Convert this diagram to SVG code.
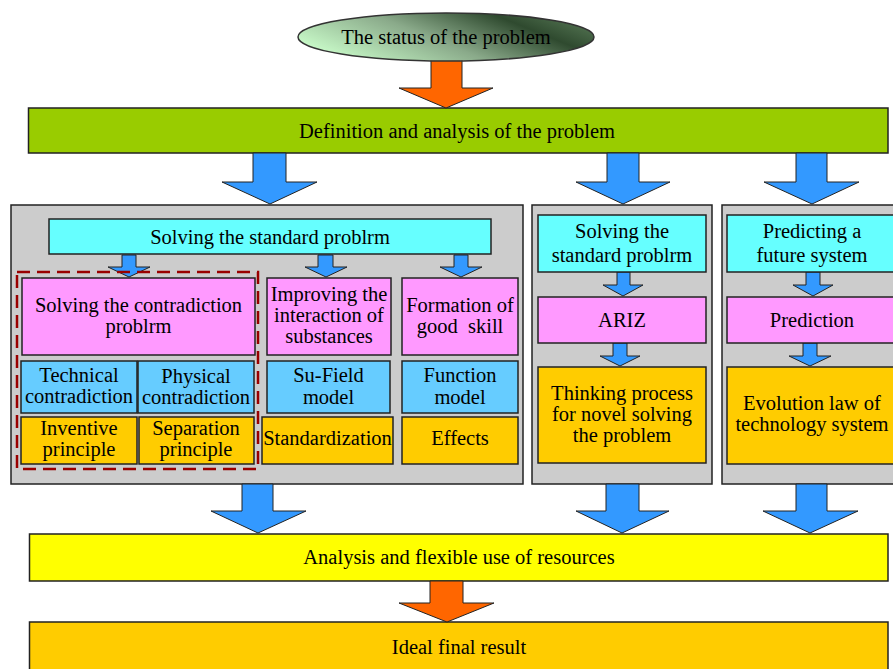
<svg xmlns="http://www.w3.org/2000/svg" width="893" height="669" viewBox="0 0 893 669">
<defs>
<linearGradient id="eg" x1="0" y1="0.7" x2="1" y2="0.3">
<stop offset="0" stop-color="#ccffcc"/>
<stop offset="0.45" stop-color="#8aaa8a"/>
<stop offset="0.8" stop-color="#2f4a2f"/>
<stop offset="1" stop-color="#50704f"/>
</linearGradient>
<style>
text{font-family:"Liberation Serif","Times New Roman",serif;font-size:20.5px;fill:#000;text-anchor:middle;white-space:pre}
.box{stroke:#222;stroke-width:1.5}
.gray{fill:#cccccc}
.green{fill:#99cc00}
.cyan{fill:#66ffff}
.pink{fill:#ff99ff}
.blue{fill:#66ccff}
.orange{fill:#ffcc00}
.yellow{fill:#ffff00}
.arB{fill:#3399ff;stroke:#222;stroke-width:1}
.arO{fill:#ff6600;stroke:#222;stroke-width:1}
.dash{fill:none;stroke:#990000;stroke-width:2.5;stroke-dasharray:13 7}
</style>
</defs>
<rect width="893" height="669" fill="#fff"/>

<g id="n-defn"><rect class="box green" x="28.5" y="108" width="859.5" height="45"/><text x="457" y="138">Definition and analysis of the problem</text></g>

<g id="n-col1"><rect class="box gray" x="11" y="205" width="512" height="279"/></g>
<g id="n-col2"><rect class="box gray" x="532" y="205" width="180" height="279"/></g>
<g id="n-col3"><rect class="box gray" x="722" y="205" width="185" height="279"/></g>

<g id="n-resources"><rect class="box yellow" x="29.5" y="534" width="858.5" height="47"/><text x="459" y="564">Analysis and flexible use of resources</text></g>
<g id="n-ideal"><rect class="box orange" x="29.5" y="622" width="858.5" height="60"/><text x="459" y="654">Ideal final result</text></g>

<g id="connectors">
<polygon class="arO" points="431,55 462,55 462,88 493,88 446,108 399,88 431,88"/>
<polygon class="arB" points="253,153 286,153 286,182 317,182 270,204 222,182 253,182"/>
<polygon class="arB" points="607,153 639,153 639,182 670,182 623,204 576,182 607,182"/>
<polygon class="arB" points="796,153 827,153 827,182 859,182 812,204 764,182 796,182"/>
<polygon class="arB" points="122,255 136,255 136,267 150,267 129,277 108,267 122,267"/>
<polygon class="arB" points="318,255 333,255 333,267 347,267 326,277 305,267 318,267"/>
<polygon class="arB" points="454,255 468,255 468,267 482,267 461,277 440,267 454,267"/>
<polygon class="arB" points="617,272 630,272 630,285 643,285 623,296 603,285 617,285"/>
<polygon class="arB" points="613,343 627,343 627,356 640,356 620,366 600,356 613,356"/>
<polygon class="arB" points="806,272 820,272 820,285 833,285 813,296 793,285 806,285"/>
<polygon class="arB" points="803,343 817,343 817,356 831,356 810,366 789,356 803,356"/>
<polygon class="arB" points="242,484 273,484 273,511 306,511 258,533 211,511 242,511"/>
<polygon class="arB" points="606,484 639,484 639,511 669,511 622,533 576,511 606,511"/>
<polygon class="arB" points="796,484 827,484 827,511 858,511 810,533 763,511 796,511"/>
<polygon class="arO" points="430,581 463,581 463,603 494,603 447,622 399,603 430,603"/>
</g>

<g id="n-status"><ellipse cx="446" cy="37" rx="148" ry="24" fill="url(#eg)" stroke="#333" stroke-width="1.5"/><text x="446" y="44">The status of the problem</text></g>

<g id="n-std1"><rect class="box cyan" x="49" y="219" width="442" height="35"/><text x="270" y="244">Solving the standard problrm</text></g>
<g id="n-group"><rect class="dash" x="17" y="272" width="241" height="197"/></g>
<g id="n-contra"><rect class="box pink" x="22" y="278" width="233" height="77"/><text x="138.5" y="312">Solving the contradiction</text><text x="138.5" y="333">problrm</text></g>
<g id="n-tech"><rect class="box blue" x="21" y="361" width="116" height="52"/><text x="79" y="382">Technical</text><text x="79" y="403">contradiction</text></g>
<g id="n-phys"><rect class="box blue" x="138" y="361" width="116" height="52"/><text x="196" y="383">Physical</text><text x="196" y="404">contradiction</text></g>
<g id="n-invent"><rect class="box orange" x="21" y="417" width="116" height="47"/><text x="79" y="435">Inventive</text><text x="79" y="456">principle</text></g>
<g id="n-separ"><rect class="box orange" x="139" y="417" width="115" height="47"/><text x="196" y="435">Separation</text><text x="196" y="456">principle</text></g>
<g id="n-improve"><rect class="box pink" x="267" y="278" width="124" height="77"/><text x="329" y="301">Improving the</text><text x="329" y="322">interaction of</text><text x="329" y="343">substances</text></g>
<g id="n-formation"><rect class="box pink" x="402" y="278" width="116" height="77"/><text x="460" y="312">Formation of</text><text x="460" y="333">good  skill</text></g>
<g id="n-sufield"><rect class="box blue" x="267" y="361" width="123" height="52"/><text x="328.5" y="382">Su-Field</text><text x="328.5" y="404">model</text></g>
<g id="n-function"><rect class="box blue" x="402" y="361" width="116" height="52"/><text x="460" y="382">Function</text><text x="460" y="404">model</text></g>
<g id="n-standard"><rect class="box orange" x="262" y="417" width="131" height="47"/><text x="327.5" y="445">Standardization</text></g>
<g id="n-effects"><rect class="box orange" x="402" y="417" width="116" height="47"/><text x="460" y="445">Effects</text></g>

<g id="n-std2"><rect class="box cyan" x="538" y="215" width="168" height="57"/><text x="622" y="238">Solving the</text><text x="622" y="262">standard problrm</text></g>
<g id="n-ariz"><rect class="box pink" x="538" y="297" width="168" height="46"/><text x="622" y="327">ARIZ</text></g>
<g id="n-thinking"><rect class="box orange" x="538" y="367" width="168" height="96"/><text x="622" y="400">Thinking process</text><text x="622" y="421">for novel solving</text><text x="622" y="442">the problem</text></g>

<g id="n-predict"><rect class="box cyan" x="727" y="215" width="172" height="57"/><text x="812" y="238">Predicting a</text><text x="812" y="262">future system</text></g>
<g id="n-prediction"><rect class="box pink" x="727" y="297" width="172" height="46"/><text x="812" y="327">Prediction</text></g>
<g id="n-evolution"><rect class="box orange" x="727" y="367" width="172" height="97"/><text x="812" y="410">Evolution law of</text><text x="812" y="431">technology system</text></g>
</svg>
